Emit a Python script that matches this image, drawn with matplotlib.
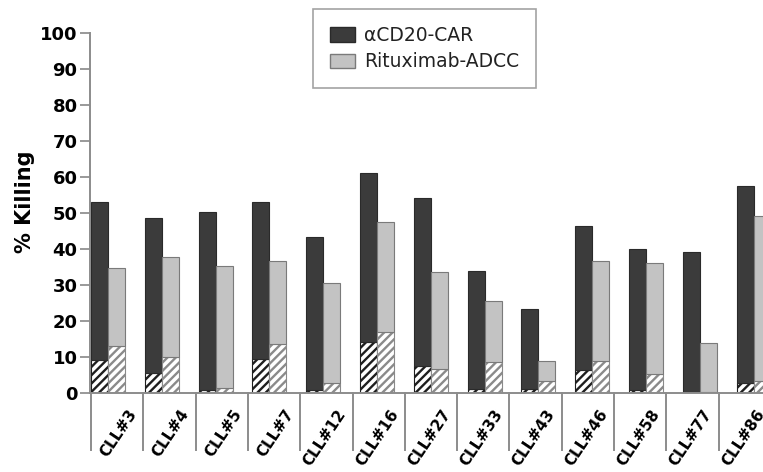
import matplotlib
matplotlib.use("Agg")
import matplotlib.pyplot as plt
import matplotlib.transforms as mtransforms
from matplotlib.patches import Patch
from matplotlib.lines import Line2D
import numpy as np

categories = ["CLL#3", "CLL#4", "CLL#5", "CLL#7", "CLL#12", "CLL#16", "CLL#27",
              "CLL#33", "CLL#43", "CLL#46", "CLL#58", "CLL#77", "CLL#86"]
car_total = [53.0, 48.5, 50.2, 53.0, 43.3, 61.2, 54.3, 34.0, 23.3, 46.3, 39.9, 39.2, 57.6]
car_hatched = [9.2, 5.5, 0.9, 9.4, 0.9, 14.3, 7.6, 1.2, 1.2, 6.5, 0.9, 0.2, 2.9]
adcc_total = [34.6, 37.7, 35.3, 36.7, 30.6, 47.5, 33.5, 25.6, 9.0, 36.6, 36.2, 13.8, 49.3]
adcc_hatched = [13.1, 10.1, 1.4, 13.5, 2.9, 16.9, 6.7, 8.5, 3.2, 8.9, 5.3, 0.3, 3.2]
yticks = [0, 10, 20, 30, 40, 50, 60, 70, 80, 90, 100]
series_names = ["\u03b1CD20-CAR", "Rituximab-ADCC"]

plt.rcParams['font.family'] = ['DejaVu Sans']
plt.rcParams['hatch.linewidth'] = 1.7

W, H = 763, 472
fig = plt.figure(figsize=(W / 100, H / 100), dpi=100)
ax_left, ax_bottom, ax_top = 90, 393, 33
ax = fig.add_axes([ax_left / W, (H - ax_bottom) / H, (W - ax_left) / W, (ax_bottom - ax_top) / H])

dark = "#3b3b3b"
light = "#c3c3c3"
pitch_px = 53.8
bw = 17 / pitch_px
x = np.arange(len(categories))

car_total_a = np.array(car_total)
car_h_a = np.array(car_hatched)
adcc_total_a = np.array(adcc_total)
adcc_h_a = np.array(adcc_hatched)

# dark bars
ax.bar(x - bw, car_h_a, width=bw, align='edge', color='white', edgecolor='#1e1e1e',
       hatch='////', linewidth=0.8)
ax.bar(x - bw, car_total_a - car_h_a, bottom=car_h_a, width=bw, align='edge',
       color=dark, edgecolor='#2a2a2a', linewidth=0.8)
# light bars
ax.bar(x, adcc_h_a, width=bw, align='edge', color='white', edgecolor='#8a8a8a',
       hatch='////', linewidth=0.8)
ax.bar(x, adcc_total_a - adcc_h_a, bottom=adcc_h_a, width=bw, align='edge',
       color=light, edgecolor='#7a7a7a', linewidth=0.8)

xmin = -bw - 1 / pitch_px
ax.set_xlim(xmin, xmin + (W - ax_left) / pitch_px)
ax.set_ylim(0, 100)
ax.set_yticks(yticks)
ax.set_yticklabels([str(t) for t in yticks], fontsize=13, fontweight='bold')
ax.tick_params(axis='y', length=7, width=1.2, color='#888888', pad=2)
ax.set_xticks([])
for s in ['top', 'right']:
    ax.spines[s].set_visible(False)
for s in ['left', 'bottom']:
    ax.spines[s].set_color('#8c8c8c')
    ax.spines[s].set_linewidth(1.4)

ax.set_ylabel("% Killing", fontsize=15, fontweight='bold')
ax.yaxis.set_label_coords(-55 / (W - ax_left), 0.53)

# category separators and labels
trans = mtransforms.blended_transform_factory(ax.transData, ax.transAxes)
sep_len = 57 / (ax_bottom - ax_top)
for k in range(len(categories) + 1):
    xs = xmin + (1 + 52.3 * k) / pitch_px
    ax.add_line(Line2D([xs, xs], [0, -sep_len], transform=trans, color='#8c8c8c',
                       linewidth=1.4, clip_on=False))
for k, lab in enumerate(categories):
    xr = xmin + (1 + 52.3 * (k + 1)) / pitch_px
    off = mtransforms.offset_copy(trans, fig=fig, x=-16, y=-14, units='dots')
    ax.text(xr, 0, lab, transform=off, rotation=56, rotation_mode='anchor',
            ha='right', va='top', fontsize=11, fontweight='bold', clip_on=False)

handles = [Patch(facecolor=dark, edgecolor='#2a2a2a'),
           Patch(facecolor=light, edgecolor='#7a7a7a')]
leg = fig.legend(handles, series_names, loc='upper left',
                 bbox_to_anchor=(313 / W, 1 - 9 / H), fontsize=13.5,
                 frameon=True, fancybox=False, edgecolor='#8c8c8c',
                 handlelength=1.35, handleheight=0.8, borderpad=0.9,
                 labelspacing=0.4, handletextpad=0.45, borderaxespad=0)
leg.get_frame().set_linewidth(1.2)
for t in leg.get_texts():
    t.set_color('#222222')

fig.savefig("out.png", dpi=100)
